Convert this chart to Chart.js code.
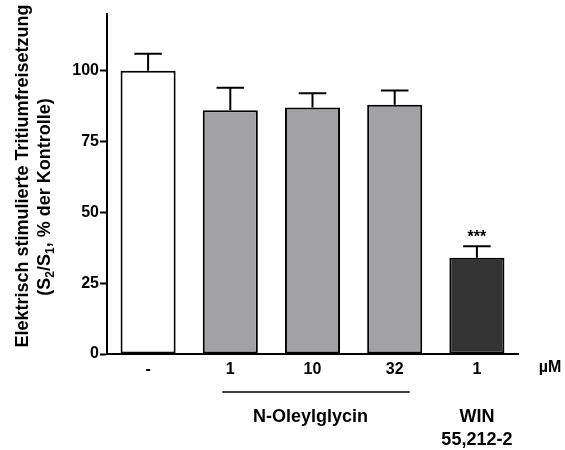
<!DOCTYPE html>
<html>
<head>
<meta charset="utf-8">
<script src="https://cdn.jsdelivr.net/npm/chart.js@4"></script>
<style>
  body { margin: 0; background: #fff; }
</style>
</head>
<body>
<canvas id="barChart" width="565" height="450"></canvas>
<script>
const labels = ['-', '1', '10', '32', '1'];
const values = [100, 86, 87, 88, 34];
const sem = [6, 8, 5, 5, 4];
const barColors = ['#ffffff', '#a2a1a6', '#a2a1a6', '#a2a1a6', '#333333'];
const yTicks = [0, 25, 50, 75, 100];
const stars = ['', '', '', '', '***'];

const FONT = '"Liberation Sans", Arial, sans-serif';

// error bars + stars, drawn from the scales
const errorBars = {
    id: 'errorBars',
    afterDatasetsDraw(chart) {
        const ctx = chart.ctx;
        const x = chart.scales.x;
        const y = chart.scales.y;
        const meta = chart.getDatasetMeta(0);
        ctx.save();
        ctx.strokeStyle = '#000';
        ctx.lineWidth = 2;
        meta.data.forEach((bar, i) => {
            const cx = x.getPixelForValue(i);
            const top = y.getPixelForValue(values[i] + sem[i]);
            const base = y.getPixelForValue(values[i]);
            const half = bar.width / 4;
            ctx.beginPath();
            ctx.moveTo(cx, base);
            ctx.lineTo(cx, top);
            ctx.moveTo(cx - half, top);
            ctx.lineTo(cx + half, top);
            ctx.stroke();
            if (stars[i]) {
                ctx.fillStyle = '#000';
                ctx.font = 'bold 16px ' + FONT;
                ctx.textAlign = 'center';
                ctx.textBaseline = 'bottom';
                ctx.fillText(stars[i], cx, top - 1);
            }
        });
        ctx.restore();
    }
};

// axis title with subscripts, unit and group labels
const annotations = {
    id: 'annotations',
    afterDraw(chart) {
        const ctx = chart.ctx;
        const x = chart.scales.x;
        ctx.save();
        ctx.fillStyle = '#000';
        ctx.textBaseline = 'middle';

        // y title
        ctx.save();
        ctx.translate(23, 176);
        ctx.rotate(-Math.PI / 2);
        ctx.font = 'bold 18px ' + FONT;
        ctx.textAlign = 'center';
        ctx.fillText('Elektrisch stimulierte Tritiumfreisetzung', 0, 0);
        ctx.restore();

        ctx.save();
        ctx.translate(45, 197);
        ctx.rotate(-Math.PI / 2);
        ctx.textAlign = 'left';
        const parts = [['(S', false], ['2', true], ['/S', false], ['1', true], [', % der Kontrolle)', false]];
        let total = 0;
        parts.forEach(p => {
            ctx.font = (p[1] ? 'bold 12px ' : 'bold 18px ') + FONT;
            total += ctx.measureText(p[0]).width;
        });
        let pos = -total / 2;
        parts.forEach(p => {
            ctx.font = (p[1] ? 'bold 12px ' : 'bold 18px ') + FONT;
            ctx.fillText(p[0], pos, p[1] ? 6 : 0);
            pos += ctx.measureText(p[0]).width;
        });
        ctx.restore();

        ctx.font = 'bold 16px ' + FONT;
        ctx.textAlign = 'center';
        ctx.fillText('µM', 550, 368);

        // group line under N-Oleylglycin doses
        const x1 = x.getPixelForValue(1);
        const x3 = x.getPixelForValue(3);
        ctx.strokeStyle = '#000';
        ctx.lineWidth = 1.5;
        ctx.beginPath();
        ctx.moveTo(x1 - 8, 392);
        ctx.lineTo(x3 + 15, 392);
        ctx.stroke();

        ctx.font = 'bold 18px ' + FONT;
        ctx.fillText('N-Oleylglycin', (x1 + x3) / 2 - 2, 417);
        const x4 = x.getPixelForValue(4);
        ctx.fillText('WIN', x4, 417);
        ctx.fillText('55,212-2', x4, 440);
        ctx.restore();
    }
};

const chartContext = document.getElementById('barChart').getContext('2d');
const chart = new Chart(chartContext, {
    type: 'bar',
    data: {
        labels: labels,
        datasets: [{
            data: values,
            backgroundColor: barColors,
            borderColor: '#000',
            borderWidth: 2,
            borderSkipped: false,
            categoryPercentage: 1,
            barPercentage: 0.67
        }]
    },
    options: {
        responsive: false,
        animation: false,
        layout: {
            padding: { top: 14, right: 47, left: 0, bottom: 0 }
        },
        plugins: {
            legend: { display: false },
            tooltip: { enabled: false }
        },
        scales: {
            x: {
                grid: { display: false, drawTicks: false },
                border: { color: '#000', width: 2 },
                ticks: {
                    color: '#000',
                    padding: 6,
                    font: { family: FONT, size: 16, weight: 'bold' }
                },
                afterFit(scale) { scale.height = 96; }
            },
            y: {
                min: 0,
                max: 120,
                afterBuildTicks(scale) {
                    scale.ticks = yTicks.map(v => ({ value: v }));
                },
                grid: {
                    display: true,
                    drawOnChartArea: false,
                    drawTicks: true,
                    tickLength: 7,
                    tickWidth: 2,
                    color: '#000'
                },
                border: { color: '#000', width: 2 },
                ticks: {
                    color: '#000',
                    padding: 1,
                    font: { family: FONT, size: 16, weight: 'bold' }
                },
                afterFit(scale) { scale.width = 107; }
            }
        }
    },
    plugins: [errorBars, annotations]
});
</script>
</body>
</html>
